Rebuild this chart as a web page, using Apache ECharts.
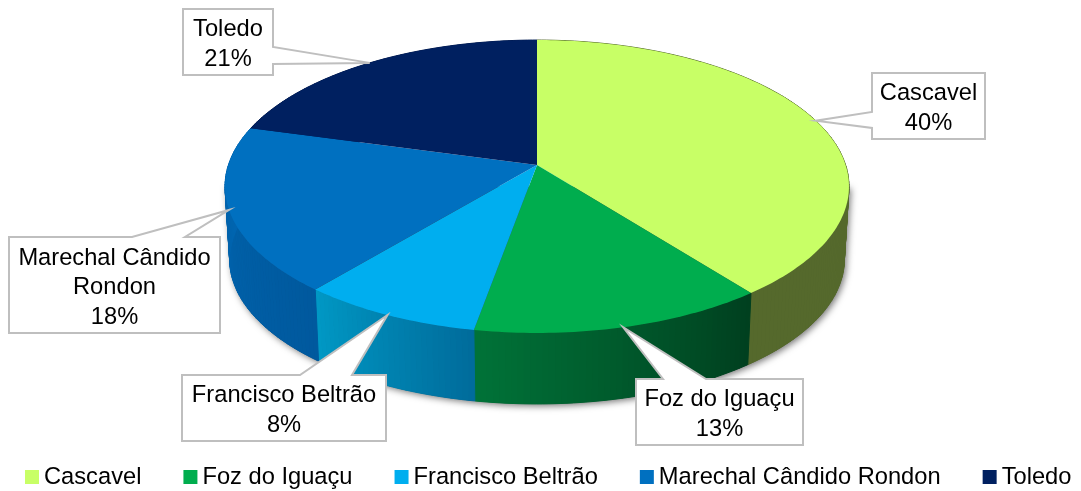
<!DOCTYPE html>
<html>
<head>
<meta charset="utf-8">
<script src="https://cdn.jsdelivr.net/npm/echarts@6/dist/echarts.min.js"></script>
<style>
html, body { margin: 0; padding: 0; background: #fff; }
#chart { width: 1081px; height: 491px; }
</style>
</head>
<body>
<div id="chart"></div>
<script>
// dados
var categories = ['Cascavel', 'Foz do Iguaçu', 'Francisco Beltrão', 'Marechal Cândido Rondon', 'Toledo'];
var values = [39.5, 13.3, 8.2, 18.3, 20.7];

// estilo
var topColors = ['#C8FF66', '#00AD4E', '#00AEEF', '#0070C0', '#002060'];
// cor da lateral, da esquerda para a direita
var wallColors = [
  ['#55692C', '#55692C'],
  ['#007238', '#00401F'],
  ['#0098C4', '#006C9C'],
  ['#0068B4', '#00599E'],
  ['#001A50', '#001A50']
];
var labelLines = [
  ['Cascavel'],
  ['Foz do Iguaçu'],
  ['Francisco Beltrão'],
  ['Marechal Cândido', 'Rondon'],
  ['Toledo']
];
// caixa [x, y, w, h], lado da ponta, inicio e fim da base da ponta
var boxes = [
  { rect: [872, 73, 113, 66], side: 'left', base: [112, 128] },
  { rect: [636, 379, 167, 66], side: 'top', base: [663, 706] },
  { rect: [182, 375, 204, 66], side: 'top', base: [300, 352] },
  { rect: [9, 237, 211, 96], side: 'top', base: [132, 185] },
  { rect: [183, 9, 90, 66], side: 'right', base: [47, 64] }
];
var fontFamily = '"Liberation Sans", Arial, sans-serif';
var fontSize = 23.7;

// projecao do disco em perspectiva
var apex = [537, 165];
var radiusX = 308.6;
var radiusY = 143.3;
var persp = 0.1468;
var depth = 73.5;
var lowerScale = 0.985;

var total = values.reduce(function (a, b) { return a + b; }, 0);
var starts = [];
values.reduce(function (acc, v, i) { starts[i] = acc; return acc + v; }, 0);

function project(pct, lower) {
  var t = pct / total * Math.PI * 2;
  var u = Math.sin(t), v = -Math.cos(t);
  var s = 1 / (1 - persp * v);
  var k = lower ? lowerScale : 1;
  return [
    apex[0] + radiusX * u * s * k,
    apex[1] + radiusY * v * s * k + (lower ? depth : 0)
  ];
}

function arc(from, to, lower) {
  var pts = [];
  var n = Math.max(2, Math.ceil((to - from) / total * 360));
  for (var i = 0; i <= n; i++) {
    pts.push(project(from + (to - from) * i / n, lower));
  }
  return pts;
}

// so a frente do disco, para a sombra nao aparecer atras
function baseItem() {
  var right = Math.acos(-persp) / (Math.PI * 2) * total;
  var left = total - right;
  return {
    type: 'polygon',
    shape: { points: arc(right, left, true).concat([project(left, false), project(right, false)]) },
    style: { fill: '#444', shadowBlur: 7, shadowColor: 'rgba(0,0,0,0.55)', shadowOffsetX: 2, shadowOffsetY: 2 }
  };
}

function wallItem(params) {
  var i = params.dataIndex;
  var top = arc(starts[i], starts[i] + values[i], false);
  var low = arc(starts[i], starts[i] + values[i], true);
  var children = [];
  for (var j = 0; j < top.length - 1; j++) {
    // o arco na frente corre da direita para a esquerda
    var c = echarts.color.lerp(1 - j / (top.length - 2), wallColors[i]);
    children.push({
      type: 'polygon',
      shape: { points: [top[j], top[j + 1], low[j + 1], low[j]] },
      style: { fill: c, stroke: c, lineWidth: 1 }
    });
  }
  return { type: 'group', children: children };
}

function topItem(i) {
  return function () {
    return {
      type: 'polygon',
      shape: { points: [apex].concat(arc(starts[i], starts[i] + values[i], false)) },
      style: { fill: topColors[i] }
    };
  };
}

function calloutPoints(b, tip) {
  var x = b.rect[0], y = b.rect[1], r = x + b.rect[2], d = y + b.rect[3];
  var pts = [[x, y]];
  if (b.side === 'top') pts.push([b.base[0], y], tip, [b.base[1], y]);
  pts.push([r, y]);
  if (b.side === 'right') pts.push([r, b.base[0]], tip, [r, b.base[1]]);
  pts.push([r, d], [x, d]);
  if (b.side === 'left') pts.push([x, b.base[1]], tip, [x, b.base[0]]);
  return pts;
}

function calloutItem(params) {
  var i = params.dataIndex;
  var b = boxes[i];
  var tip = project(starts[i] + values[i] / 2, false);
  var lines = labelLines[i].concat([Math.round(values[i]) + '%']);
  return {
    type: 'group',
    children: [{
      type: 'polygon',
      shape: { points: calloutPoints(b, tip) },
      style: { fill: '#fff', stroke: '#BFBFBF', lineWidth: 2 }
    }, {
      type: 'text',
      style: {
        text: lines.join('\n'),
        x: b.rect[0] + b.rect[2] / 2,
        y: b.rect[1] + b.rect[3] / 2 + 2.5,
        align: 'center',
        verticalAlign: 'middle',
        fill: '#000',
        font: fontSize + 'px ' + fontFamily,
        lineHeight: 29.5
      }
    }]
  };
}

var series = [
  { type: 'custom', name: 'base', coordinateSystem: 'none', z: 1, silent: true, data: [1], renderItem: baseItem },
  { type: 'custom', name: 'walls', coordinateSystem: 'none', z: 2, silent: true, data: values, renderItem: wallItem }
];
categories.forEach(function (name, i) {
  series.push({
    type: 'custom',
    name: name,
    coordinateSystem: 'none',
    z: 3,
    silent: true,
    itemStyle: { color: topColors[i] },
    data: [values[i]],
    renderItem: topItem(i)
  });
});
series.push({ type: 'custom', name: 'labels', coordinateSystem: 'none', z: 4, silent: true, data: values, renderItem: calloutItem });

var chart = echarts.init(document.getElementById('chart'), null, { renderer: 'canvas' });
chart.setOption({
  animation: false,
  backgroundColor: '#fff',
  legend: {
    data: categories,
    left: 25,
    top: 465,
    padding: 0,
    icon: 'rect',
    itemWidth: 14,
    itemHeight: 14,
    itemGap: 42,
    selectedMode: false,
    textStyle: { color: '#000', fontSize: fontSize, fontFamily: fontFamily }
  },
  series: series
});
</script>
</body>
</html>
